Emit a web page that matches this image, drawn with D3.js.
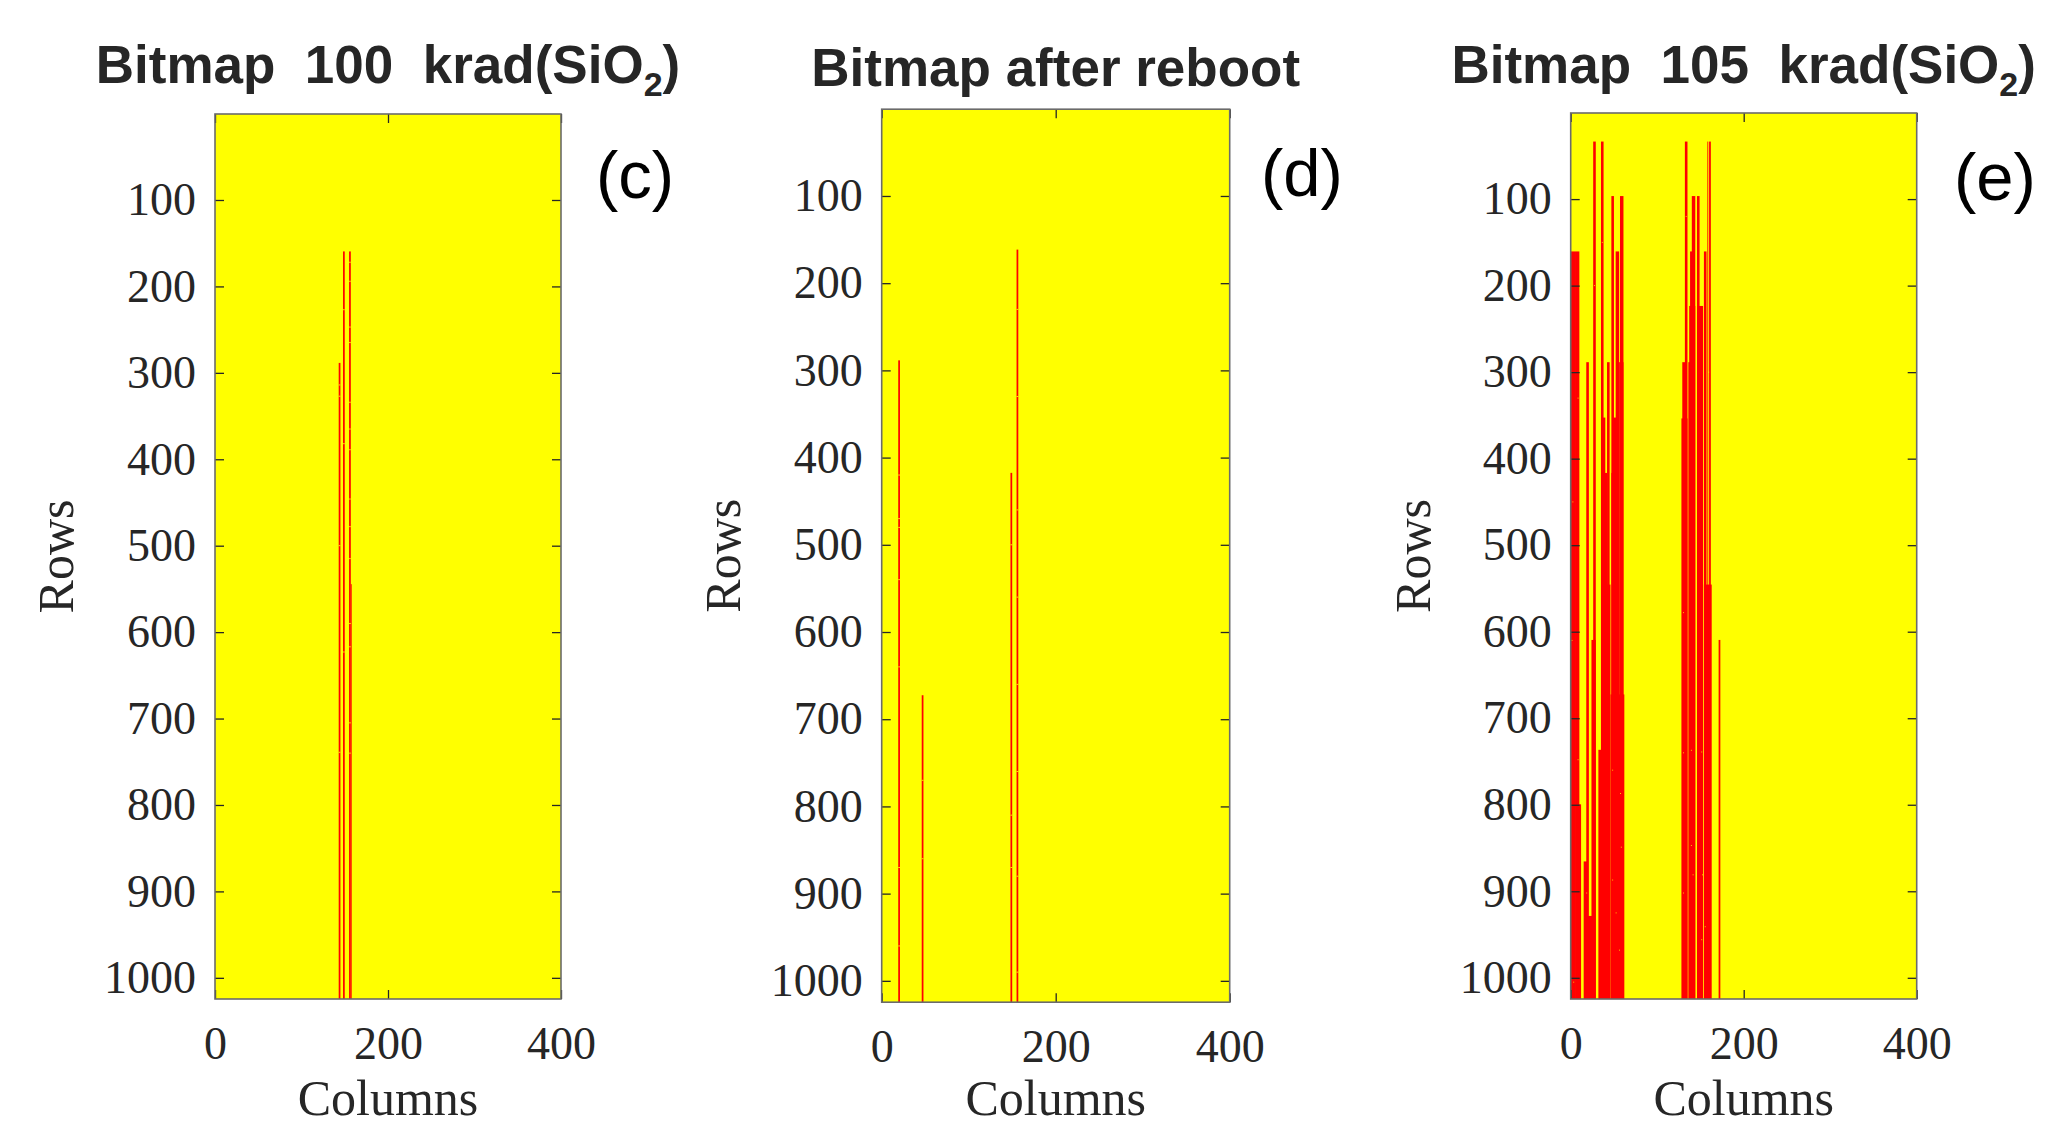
<!DOCTYPE html>
<html><head><meta charset="utf-8">
<script src="https://cdn.jsdelivr.net/npm/d3@7"></script>
<style>html,body{margin:0;padding:0;background:#fff;} svg{display:block;}</style>
</head><body>
<svg id="chart" width="2045" height="1127"></svg>
<script>
// ---------------- data ----------------
const nRows = 1024;
const nCols = 400;
const rowTicks = [100, 200, 300, 400, 500, 600, 700, 800, 900, 1000];
const colTicks = [0, 200, 400];
const panelTags = ["(c)", "(d)", "(e)"];
const titleMain = ["Bitmap  100  krad(SiO", "Bitmap after reboot", "Bitmap  105  krad(SiO"];
const titleSub = ["2", "", "2"];
const titleEnd = [")", "", ")"];
const xLabel = "Columns";
const yLabel = "Rows";

// failing column runs: [firstCol, lastCol, firstRow] (each run continues to the last row)
const failC = [[143,144,289],[148,149,160],[155,156,160],[157,157,545]];
const failD = [[19,20,289],[46,47,673],[148,149,418],[155,156,162]];
const failE = [
  [0,4,161],[5,9,161],[9,11,800],[15,18,866],[18,20,289],[20,24,929],[24,28,610],[26,28,34],
  [32,35,737],[35,37,34],[35,39,353],[39,41,417],[40,45,546],[42,44,289],[47,49,97],[49,52,353],
  [47,53,417],[46,61,673],[52,55,161],[57,60,97],[56,60,289],
  [129,133,289],[128,134,354],[132,134,34],[136,138,289],[138,140,161],[137,143,224],[140,143,97],
  [146,148,97],[146,152,224],[154,156,161],[154,162,546],[158,158,34],[160,161,34],[171,172,610]
];
// passing bits inside failing runs: [firstCol, lastCol, row]
const passC = [[155,156,172],[155,156,194],[155,156,247],[155,156,265],[155,156,334],[155,156,365],
  [155,156,389],[155,156,446],[155,156,478],[155,156,515],[155,156,590],[155,156,617],[155,156,705],
  [155,156,740],[148,149,227],[148,149,382],[148,149,623],[143,144,314],[143,144,327],[143,144,500],[143,144,739]];
const passD = [[19,20,420],[19,20,470],[19,20,480],[19,20,540],[19,20,640],[19,20,870],[19,20,960],
  [46,47,770],[46,47,860],[148,149,500],[148,149,810],[148,149,870],[155,156,230],[155,156,330],
  [155,156,460],[155,156,560],[155,156,660],[155,156,760],[155,156,880],[155,156,990]];
const passE = [[130,130,578],[130,130,740],[139,139,737],[151,151,739],[139,139,847],[152,152,881],
  [141,141,881],[155,155,941],[151,151,956],[130,130,902],[1,1,610],[8,8,748],[48,48,760],[57,57,787],
  [58,58,849],[48,48,887],[52,52,925],[56,56,968],[3,3,1005],[18,18,902],[27,27,200],[36,36,150],
  [133,133,120],[159,159,300],[8,8,330],[2,2,450]];

const panelFails = [failC, failD, failE];
const panelPasses = [passC, passD, passE];

// ---------------- layout ----------------
const layout = [
  {x0:215,    x1:561,    y0:114,   y1:999,    titleY:83, tagX:596,  tagY:198, xLabY:1059, colLabY:1115, rowsX:73},
  {x0:881.7,  x1:1229.7, y0:109.2, y1:1002.2, titleY:86, tagX:1261, tagY:196, xLabY:1062, colLabY:1115, rowsX:740},
  {x0:1570.7, x1:1916.7, y0:113,   y1:999,    titleY:83, tagX:1954, tagY:200, xLabY:1059, colLabY:1115, rowsX:1430}
];
const YELLOW = "#FFFF00", RED = "#FF0000", INK = "#262626";
const svg = d3.select("#chart");

layout.forEach((L, i) => {
  const xs = d3.scaleLinear().domain([0, nCols]).range([L.x0, L.x1]);
  const ys = d3.scaleLinear().domain([0.5, nRows + 0.5]).range([L.y0, L.y1]);
  const g = svg.append("g");

  g.append("rect").attr("x", L.x0).attr("y", L.y0)
    .attr("width", L.x1 - L.x0).attr("height", L.y1 - L.y0).attr("fill", YELLOW);

  g.append("g").selectAll("rect").data(panelFails[i]).join("rect")
    .attr("x", d => xs(d[0])).attr("width", d => xs(d[1] + 1) - xs(d[0]))
    .attr("y", d => ys(d[2] - 0.5)).attr("height", d => ys(nRows + 0.5) - ys(d[2] - 0.5))
    .attr("fill", RED);

  g.append("g").selectAll("rect").data(panelPasses[i]).join("rect")
    .attr("x", d => xs(d[0])).attr("width", d => xs(d[1] + 1) - xs(d[0]))
    .attr("y", d => ys(d[2] - 0.5)).attr("height", d => ys(d[2] + 0.5) - ys(d[2] - 0.5))
    .attr("fill", YELLOW);

  const tl = 9;
  const fmt = d3.format("d");
  const styleAxis = sel => {
    sel.select(".domain").remove();
    sel.selectAll(".tick line").attr("stroke", INK).attr("stroke-width", 1.3);
    sel.selectAll(".tick text").attr("fill", INK)
      .attr("font-family", "'Liberation Serif', 'Times New Roman', serif").attr("font-size", 46);
  };
  g.append("g").attr("transform", `translate(${L.x0},0)`)
    .call(d3.axisLeft(ys).tickValues(rowTicks).tickFormat(fmt).tickSizeInner(-tl).tickSizeOuter(0).tickPadding(19))
    .call(styleAxis);
  g.append("g").attr("transform", `translate(${L.x1},0)`)
    .call(d3.axisRight(ys).tickValues(rowTicks).tickSizeInner(-tl).tickSizeOuter(0).tickFormat(""))
    .call(styleAxis);
  const xb = g.append("g").attr("transform", `translate(0,${L.y1})`)
    .call(d3.axisBottom(xs).tickValues(colTicks).tickFormat(fmt).tickSizeInner(-tl).tickSizeOuter(0))
    .call(styleAxis);
  xb.selectAll(".tick text").attr("dy", null).attr("y", L.xLabY - L.y1);
  g.append("g").attr("transform", `translate(0,${L.y0})`)
    .call(d3.axisTop(xs).tickValues(colTicks).tickSizeInner(-tl).tickSizeOuter(0).tickFormat(""))
    .call(styleAxis);

  g.append("rect").attr("x", L.x0).attr("y", L.y0)
    .attr("width", L.x1 - L.x0).attr("height", L.y1 - L.y0)
    .attr("fill", "none").attr("stroke", "#6b6b6b").attr("stroke-width", 1.6);

  // title
  const t = g.append("text").attr("x", (L.x0 + L.x1) / 2).attr("y", L.titleY)
    .attr("text-anchor", "middle").attr("fill", INK).style("white-space", "pre")
    .attr("font-family", "'Liberation Sans', Arial, sans-serif").attr("font-weight", "bold").attr("font-size", 53);
  t.append("tspan").text(titleMain[i]);
  if (titleSub[i]) {
    t.append("tspan").attr("dy", 13).attr("font-size", 34).text(titleSub[i]);
    t.append("tspan").attr("dy", -13).text(titleEnd[i]);
  }

  // panel tag
  g.append("text").attr("x", L.tagX).attr("y", L.tagY).attr("fill", "#000")
    .attr("font-family", "'Liberation Sans', Arial, sans-serif").attr("font-size", 67).text(panelTags[i]);

  // axis labels
  g.append("text").attr("x", (L.x0 + L.x1) / 2).attr("y", L.colLabY).attr("text-anchor", "middle")
    .attr("fill", INK).attr("font-family", "'Liberation Serif', 'Times New Roman', serif").attr("font-size", 50)
    .text(xLabel);
  g.append("text").attr("transform", `translate(${L.rowsX},${(L.y0 + L.y1) / 2}) rotate(-90)`)
    .attr("text-anchor", "middle").attr("fill", INK)
    .attr("font-family", "'Liberation Serif', 'Times New Roman', serif").attr("font-size", 50)
    .text(yLabel);
});
</script>
</body></html>
